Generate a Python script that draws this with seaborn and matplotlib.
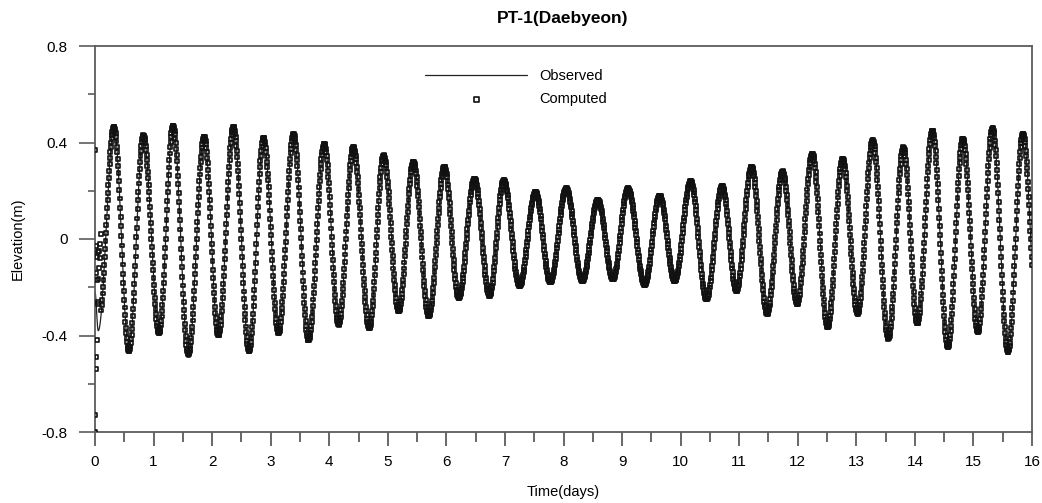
import numpy as np
import pandas as pd
import matplotlib
matplotlib.use("Agg")
import matplotlib.pyplot as plt
from matplotlib.ticker import MultipleLocator, FixedLocator
import seaborn as sns

# Times (days) of successive highs and lows of the tide record
extreme_days = [
    0.000, 0.055, 0.325, 0.580, 0.826, 1.094, 1.334, 1.596, 1.864, 2.108,
    2.365, 2.633, 2.878, 3.134, 3.391, 3.647, 3.916, 4.161, 4.412, 4.685,
    4.930, 5.186, 5.438, 5.700, 5.968, 6.212, 6.481, 6.737, 6.982, 7.250,
    7.524, 7.775, 8.049, 8.322, 8.589, 8.846, 9.102, 9.388, 9.644, 9.901,
    10.174, 10.443, 10.710, 10.956, 11.212, 11.479, 11.742, 11.992, 12.249, 12.512,
    12.768, 13.025, 13.281, 13.548, 13.805, 14.044, 14.300, 14.564, 14.820, 15.077,
    15.327, 15.590, 15.846, 16.110,
]

# Observed elevation (m) at those highs and lows
observed_extremes = [
    -0.22, -0.38, 0.46, -0.46, 0.43, -0.385, 0.465, -0.475, 0.425, -0.40,
    0.465, -0.46, 0.42, -0.385, 0.435, -0.42, 0.395, -0.35, 0.38, -0.37,
    0.347, -0.30, 0.32, -0.316, 0.30, -0.24, 0.25, -0.233, 0.243, -0.19,
    0.19, -0.178, 0.21, -0.17, 0.147, -0.157, 0.20, -0.19, 0.16, -0.164,
    0.238, -0.233, 0.218, -0.20, 0.30, -0.31, 0.278, -0.268, 0.354, -0.365,
    0.333, -0.31, 0.41, -0.413, 0.38, -0.35, 0.45, -0.447, 0.416, -0.385,
    0.46, -0.468, 0.437, -0.44,
]

# Model elevation (m) at the same highs and lows
computed_extremes = [
    -0.22, -0.38, 0.465, -0.465, 0.43, -0.39, 0.47, -0.48, 0.425, -0.40,
    0.465, -0.465, 0.42, -0.39, 0.435, -0.42, 0.395, -0.355, 0.38, -0.37,
    0.347, -0.30, 0.32, -0.32, 0.30, -0.245, 0.25, -0.235, 0.243, -0.195,
    0.195, -0.18, 0.21, -0.175, 0.162, -0.168, 0.21, -0.19, 0.18, -0.175,
    0.24, -0.25, 0.22, -0.215, 0.30, -0.31, 0.28, -0.27, 0.354, -0.365,
    0.333, -0.31, 0.41, -0.413, 0.38, -0.35, 0.45, -0.447, 0.416, -0.385,
    0.46, -0.468, 0.437, -0.44,
]

# Model spin-up values during the first hours of the run
spinup_days = [0.000, 0.004, 0.008, 0.012, 0.018, 0.022, 0.026, 0.030, 0.035, 0.040,
               0.045, 0.050, 0.055, 0.060, 0.065, 0.072, 0.080, 0.090, 0.100]
spinup_elev = [-0.80, 0.37, -0.73, -0.14, -0.54, -0.03, -0.49, -0.17, -0.42, -0.075,
               -0.26, -0.055, -0.27, -0.165, -0.05, -0.12, -0.08, -0.02, 0.02]

x_ticks = list(range(0, 17))
y_ticks = [-0.8, -0.4, 0.0, 0.4, 0.8]
y_tick_labels = ["-0.8", "-0.4", "0", "0.4", "0.8"]


def tide_between_extremes(t_ext, v_ext, t):
    """Half-cosine swing between each high and the following low."""
    t_ext = np.asarray(t_ext)
    v_ext = np.asarray(v_ext)
    i = np.clip(np.searchsorted(t_ext, t, side="right") - 1, 0, len(t_ext) - 2)
    t0, t1 = t_ext[i], t_ext[i + 1]
    v0, v1 = v_ext[i], v_ext[i + 1]
    s = (t - t0) / (t1 - t0)
    return v0 + (v1 - v0) * (1 - np.cos(np.pi * s)) / 2


t_obs = np.arange(0.0, 16.0 + 1e-9, 0.004)
observed = pd.DataFrame({"day": t_obs,
                         "elev": tide_between_extremes(extreme_days, observed_extremes, t_obs)})

# model output every 10 minutes
t_cmp = np.arange(0.11, 16.0 + 1e-9, 1 / 144)
computed = pd.DataFrame({
    "day": np.concatenate([spinup_days, t_cmp]),
    "elev": np.concatenate([spinup_elev,
                            tide_between_extremes(extreme_days, computed_extremes, t_cmp)]),
})

sns.set_style("ticks")
plt.rcParams["font.family"] = ["Liberation Sans", "DejaVu Sans"]
plt.rcParams["text.color"] = "black"
plt.rcParams["xtick.labelcolor"] = "black"
plt.rcParams["ytick.labelcolor"] = "black"

W, H = 1042, 503
fig = plt.figure(figsize=(W / 100, H / 100), dpi=100)
ax = fig.add_axes([95 / W, 1 - 432 / H, (1032 - 95) / W, (432 - 46) / H])

sns.lineplot(data=observed, x="day", y="elev", ax=ax, color="#222222",
             linewidth=0.9, label="Observed", zorder=2)
sns.scatterplot(data=computed, x="day", y="elev", ax=ax, marker="s", s=8,
                facecolor="none", edgecolor="#111111", linewidth=1.2,
                label="Computed", zorder=3)

ax.set_xlim(0, 16)
ax.set_ylim(-0.8, 0.8)
ax.set_xlabel("")
ax.set_ylabel("")

ax.xaxis.set_major_locator(FixedLocator(x_ticks))
ax.xaxis.set_minor_locator(MultipleLocator(0.5))
ax.yaxis.set_major_locator(FixedLocator(y_ticks))
ax.yaxis.set_minor_locator(MultipleLocator(0.2))
ax.set_yticklabels(y_tick_labels)

spine_color = "#5c5c5c"
for sp in ax.spines.values():
    sp.set_visible(True)
    sp.set_color(spine_color)
    sp.set_linewidth(1.3)

ax.tick_params(axis="x", which="major", direction="out", length=10, width=1.3,
               color=spine_color, pad=6.5, labelsize=11, labelcolor="black")
ax.tick_params(axis="x", which="minor", direction="out", length=7, width=1.3,
               color=spine_color)
ax.tick_params(axis="y", which="major", direction="out", length=11.5, width=1.2,
               color=spine_color, pad=8, labelsize=11, labelcolor="black")
ax.tick_params(axis="y", which="minor", direction="out", length=5, width=1.2,
               color=spine_color)
ax.tick_params(top=False, right=False, which="both")

fig.text(563 / W, 1 - 18 / H, "PT-1(Daebyeon)", ha="center", va="center",
         fontsize=12.5, fontweight="bold", color="black")
fig.text(563 / W, 1 - 492 / H, "Time(days)", ha="center", va="center",
         fontsize=10.5, color="black")
fig.text(18 / W, 1 - 239 / H, "Elevation(m)", ha="center", va="center",
         fontsize=10.5, rotation=90, color="black")

leg = ax.legend(loc="upper left", bbox_to_anchor=(418 / W, 1 - 62 / H),
                bbox_transform=fig.transFigure, frameon=False, fontsize=10.5,
                handlelength=7, handletextpad=0.8, labelspacing=0.6,
                borderpad=0, markerscale=1.3)
for txt in leg.get_texts():
    txt.set_color("black")

fig.savefig("out.png", dpi=100)
